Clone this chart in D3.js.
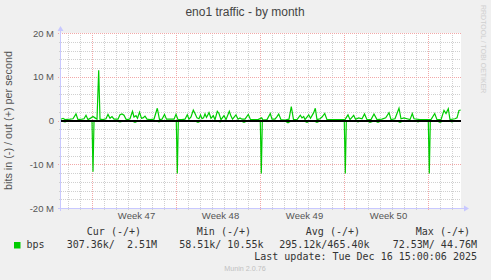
<!DOCTYPE html>
<html>
<head>
<meta charset="utf-8">
<script src="https://cdn.jsdelivr.net/npm/d3@7"></script>
<style>
  body { margin: 0; background: #f0f0f0; }
  svg { display: block; }
</style>
</head>
<body>
<script>
// values (hours since left edge, Mbit/s)
var outHours = [0, 4, 8, 18, 24, 30, 34, 42, 46, 50, 54, 60, 64, 68, 72, 75.4, 78, 84, 90, 94, 98, 102, 106,
    114, 118, 122, 126, 130, 134, 138, 143, 146, 150, 153, 157, 161, 164, 168, 172, 178, 186, 192.6, 197,
    202, 207, 211, 220, 226, 230, 234, 242, 248, 252.6, 256, 260, 264.6, 268, 272, 276, 279, 282, 285, 288,
    291, 296, 300, 304.6, 308, 312.6, 316, 320, 326, 330, 336.6, 340, 343, 350, 354, 358, 362, 368, 374.6,
    379, 394, 401.4, 404, 412, 418.6, 422, 428, 432, 435.4, 440, 448, 456, 460.6, 465, 472, 478.6, 482,
    485.4, 488, 495.4, 499, 505.4, 508.6, 512, 518, 522, 527.4, 532, 548, 568, 574, 578, 585.4, 589, 595.4,
    602, 607, 612, 620, 626, 632, 642, 649.4, 656, 660, 668, 676, 680, 686, 692, 698, 702.6, 706, 718, 740,
    747.4, 752, 760, 766, 770, 774.6, 778, 788, 792, 796, 799.4];
var outValues = [0.3, 0.5, 0.2, 0.3, 0.4, 1.5, 0.2, 0.3, 0.4, 1.2, 0.2, 0.6, 0.9, 0.6, 0.3, 11.5, 0.3, 0.2, 0.4, 1.4, 0.5, 0.9, 0.3,
    0.3, 1.3, 1.5, 1.2, 0.3, 0.2, 0.4, 2.1, 0.8, 1.1, 0.5, 1.9, 0.5, 0.6, 1.0, 0.3, 0.2, 0.3, 2.8, 0.2,
    0.3, 1.4, 0.3, 0.3, 0.3, 1.4, 0.2, 0.2, 0.3, 1.3, 0.3, 0.8, 2.4, 1.6, 0.6, 0.4, 1.3, 0.4, 0.6, 1.5,
    0.7, 1.8, 0.5, 1.1, 0.2, 2.1, 1.6, 0.2, 1.1, 0.2, 2.1, 1.0, 0.3, 1.3, 0.3, 0.6, 0.3, 0.3, 1.4,
    0.2, 0.2, 0.6, 0.1, 0.2, 1.6, 0.3, 0.3, 0.9, 1.5, 0.2, 0.1, 0.3, 3.2, 0.2, 0.2, 1.2, 0.6,
    0.9, 0.2, 1.3, 0.5, 1.8, 2.8, 0.2, 0.4, 0.8, 1.6, 0.2, 0.2, 0.2, 1.3, 0.2, 1.2, 0.3, 0.6,
    0.4, 1.5, 0.2, 0.2, 1.5, 0.2, 0.3, 0.6, 1.8, 0.2, 0.4, 2.8, 0.4, 0.6, 0.4, 0.2, 1.6, 0.4, 0.2, 0.2,
    1.6, 0.2, 0.2, 2.3, 1.6, 2.7, 0.2, 0.4, 0.6, 2.3, 2.4];
var inHours = [0, 8, 14, 62, 64, 66, 110, 118, 126, 142, 148, 154, 190, 196, 202, 230.6, 232.6, 234.6,
    268, 274, 280, 312, 318, 324, 360, 366, 372, 398.6, 400.6, 402.6, 448, 454, 460, 486, 492, 498, 506,
    512, 518, 566.6, 568.6, 570.6, 588, 594, 600, 612, 618, 626, 628, 634, 640, 672, 678, 684, 708, 714,
    720, 734.6, 736.6, 738.6, 752, 758, 764, 776, 782, 788, 800];
var inValues = [0.1, 0.3, 0.1, 0.2, 11.7, 0.2, 0.1, 0.3, 0.1, 0.1, 0.4, 0.1, 0.1, 0.3, 0.1, 0.2, 12.1, 0.2,
    0.1, 0.4, 0.1, 0.1, 0.3, 0.1, 0.1, 0.4, 0.1, 0.2, 12.1, 0.2, 0.1, 0.5, 0.1, 0.1, 0.4, 0.1, 0.1,
    0.4, 0.1, 0.2, 12.1, 0.2, 0.1, 0.3, 0.1, 0.1, 0.4, 0.1, 0.1, 0.4, 0.1, 0.1, 0.4, 0.1, 0.1, 0.3,
    0.1, 0.2, 12.1, 0.2, 0.1, 0.4, 0.1, 0.1, 0.3, 0.1, 0.1];

var yTickValues = [-20, -10, 0, 10, 20];
var yTickLabels = ["-20 M", "-10 M", "0", "10 M", "20 M"];
var weekLineHours = [62.6, 230.6, 398.6, 566.6, 734.6];
var weekLabelHours = [150, 318, 486, 654];
var weekLabels = ["Week 47", "Week 48", "Week 49", "Week 50"];

var legendHeads = ["Cur (-/+)", "Min (-/+)", "Avg (-/+)", "Max (-/+)"];
var legendValues = ["307.36k/  2.51M", "58.51k/ 10.55k", "295.12k/465.40k", "72.53M/ 44.76M"];
var lastUpdate = "Last update: Tue Dec 16 15:00:06 2025";

var width = 491, height = 280;
var margin = {top: 33, right: 30, bottom: 72, left: 61};

var svg = d3.select("body")
    .append("svg")
        .attr("width", width)
        .attr("height", height);

svg.append("rect")
    .attr("width", width)
    .attr("height", height)
    .attr("fill", "#f0f0f0");

var x = d3.scaleLinear()
    .domain([0, 800])
    .range([margin.left, width - margin.right]);

var y = d3.scaleLinear()
    .domain([-20, 20])
    .range([height - margin.bottom, margin.top]);

svg.append("rect")
    .attr("x", x(0))
    .attr("y", y(20))
    .attr("width", x(800) - x(0))
    .attr("height", y(-20) - y(20))
    .attr("fill", "#ffffff");

var px = function(v) { return Math.round(v) + 0.5; };

// minor grid (skip spots taken by the major grid)
var dayHours = d3.range(14.6, 800, 24).filter(function(d) {
    return weekLineHours.every(function(w) { return Math.abs(w - d) > 1; });
});
var minorY = d3.range(-20, 21, 2).filter(function(d) { return d % 10 !== 0; });

svg.append("g")
    .selectAll("line")
    .data(dayHours)
    .enter()
    .append("line")
        .attr("x1", function(d) { return px(x(d)); })
        .attr("x2", function(d) { return px(x(d)); })
        .attr("y1", y(20))
        .attr("y2", y(-20) + 2)
        .attr("stroke", "#d0d0d0")
        .attr("stroke-dasharray", "1,1");

svg.append("g")
    .selectAll("line")
    .data(minorY)
    .enter()
    .append("line")
        .attr("x1", x(0) - 2)
        .attr("x2", x(800))
        .attr("y1", function(d) { return px(y(d)); })
        .attr("y2", function(d) { return px(y(d)); })
        .attr("stroke", "#d0d0d0")
        .attr("stroke-dasharray", "1,1");

// major grid
svg.append("g")
    .selectAll("line")
    .data(weekLineHours)
    .enter()
    .append("line")
        .attr("x1", function(d) { return px(x(d)); })
        .attr("x2", function(d) { return px(x(d)); })
        .attr("y1", y(20))
        .attr("y2", y(-20) + 3)
        .attr("stroke", "#f2a8a8")
        .attr("stroke-dasharray", "1,1");

svg.append("g")
    .selectAll("line")
    .data(yTickValues)
    .enter()
    .append("line")
        .attr("x1", x(0) - 3)
        .attr("x2", x(800))
        .attr("y1", function(d) { return px(y(d)); })
        .attr("y2", function(d) { return px(y(d)); })
        .attr("stroke", "#f2a8a8")
        .attr("stroke-dasharray", "1,1");

// series
var inLine = d3.line()
    .x(function(d, i) { return x(inHours[i]); })
    .y(function(d) { return y(-d); });
var outLine = d3.line()
    .x(function(d, i) { return x(outHours[i]); })
    .y(function(d) { return y(d); });

svg.append("path")
    .datum(inValues)
    .attr("d", inLine)
    .attr("fill", "none")
    .attr("stroke", "#00cc00")
    .attr("stroke-width", 1.2);

svg.append("path")
    .datum(outValues)
    .attr("d", outLine)
    .attr("fill", "none")
    .attr("stroke", "#00cc00")
    .attr("stroke-width", 1.2);

// zero rule
svg.append("line")
    .attr("x1", x(0))
    .attr("x2", x(800))
    .attr("y1", y(0) + 0.5)
    .attr("y2", y(0) + 0.5)
    .attr("stroke", "#000")
    .attr("stroke-width", 2);

// axes lines + arrows
svg.append("line")
    .attr("x1", px(x(0)) - 1).attr("x2", px(x(0)) - 1)
    .attr("y1", y(-20) + 3).attr("y2", y(20) - 4)
    .attr("stroke", "#c8c8ff");
svg.append("line")
    .attr("x1", x(0) - 3).attr("x2", x(800) + 4)
    .attr("y1", px(y(-20))).attr("y2", px(y(-20)))
    .attr("stroke", "#c8c8ff");
svg.append("path")
    .attr("d", "M" + (x(0) - 3.5) + "," + (y(20) - 2) + "L" + (x(0) + 2.5) + "," + (y(20) - 2) + "L" + (x(0) - 0.5) + "," + (y(20) - 7) + "Z")
    .attr("fill", "#c8c8ff");
svg.append("path")
    .attr("d", "M" + (x(800) + 3) + "," + (y(-20) - 2.5) + "L" + (x(800) + 3) + "," + (y(-20) + 3.5) + "L" + (x(800) + 8) + "," + (y(-20) + 0.5) + "Z")
    .attr("fill", "#c8c8ff");

// axis labels
var yAxis = svg.append("g")
    .attr("transform", "translate(" + (x(0) - 7) + ",0)")
    .call(d3.axisLeft(y).tickValues(yTickValues).tickSize(0)
        .tickFormat(function(d, i) { return yTickLabels[i]; }));
yAxis.select(".domain").remove();
yAxis.selectAll("text")
    .attr("x", 0)
    .style("font-family", "'Liberation Sans', Arial, sans-serif")
    .style("font-size", "9.5px")
    .attr("fill", "#555");

var xAxis = svg.append("g")
    .attr("transform", "translate(0," + y(-20) + ")")
    .call(d3.axisBottom(x).tickValues(weekLabelHours).tickSize(0)
        .tickFormat(function(d, i) { return weekLabels[i]; }));
xAxis.select(".domain").remove();
xAxis.selectAll("text")
    .attr("y", 4)
    .style("font-family", "'Liberation Sans', Arial, sans-serif")
    .style("font-size", "9.5px")
    .attr("fill", "#555");

// title and side texts
svg.append("text")
    .attr("x", 245)
    .attr("y", 16)
    .attr("text-anchor", "middle")
    .style("font-family", "'Liberation Sans', Arial, sans-serif")
    .style("font-size", "12px")
    .attr("fill", "#444")
    .text("eno1 traffic - by month");

svg.append("text")
    .attr("transform", "translate(12," + y(0) + ") rotate(-90)")
    .attr("text-anchor", "middle")
    .style("font-family", "'Liberation Sans', Arial, sans-serif")
    .style("font-size", "10.8px")
    .attr("fill", "#555")
    .text("bits in (-) / out (+) per second");

svg.append("text")
    .attr("transform", "translate(481,5) rotate(90)")
    .style("font-family", "'Liberation Sans', Arial, sans-serif")
    .style("font-size", "7px")
    .attr("fill", "#cfcfcf")
    .text("RRDTOOL / TOBI OETIKER");

// legend
var mono = "'DejaVu Sans Mono', monospace";
var headEnds = [141, 251, 360, 470];
var valueEnds = [157, 263.5, 369.5, 477];

svg.selectAll("legendHead")
    .data(legendHeads)
    .enter()
    .append("text")
        .attr("x", function(d, i) { return headEnds[i]; })
        .attr("y", 235)
        .attr("text-anchor", "end")
        .style("font-family", mono)
        .style("font-size", "10px")
        .style("white-space", "pre")
        .attr("fill", "#333")
        .text(function(d) { return d; });

svg.append("rect")
    .attr("x", 14)
    .attr("y", 242)
    .attr("width", 6.5)
    .attr("height", 6.5)
    .attr("fill", "#00cc00");

svg.append("text")
    .attr("x", 26.5)
    .attr("y", 248)
    .style("font-family", mono)
    .style("font-size", "10px")
    .attr("fill", "#333")
    .text("bps");

svg.selectAll("legendValue")
    .data(legendValues)
    .enter()
    .append("text")
        .attr("x", function(d, i) { return valueEnds[i]; })
        .attr("y", 248)
        .attr("text-anchor", "end")
        .style("font-family", mono)
        .style("font-size", "10px")
        .style("white-space", "pre")
        .attr("fill", "#333")
        .text(function(d) { return d; });

svg.append("text")
    .attr("x", 477)
    .attr("y", 260)
    .attr("text-anchor", "end")
    .style("font-family", mono)
    .style("font-size", "10px")
    .attr("fill", "#333")
    .text(lastUpdate);

svg.append("text")
    .attr("x", 245)
    .attr("y", 271)
    .attr("text-anchor", "middle")
    .style("font-family", "'Liberation Sans', Arial, sans-serif")
    .style("font-size", "7.2px")
    .attr("fill", "#c0c0c0")
    .text("Munin 2.0.76");
</script>
</body>
</html>
